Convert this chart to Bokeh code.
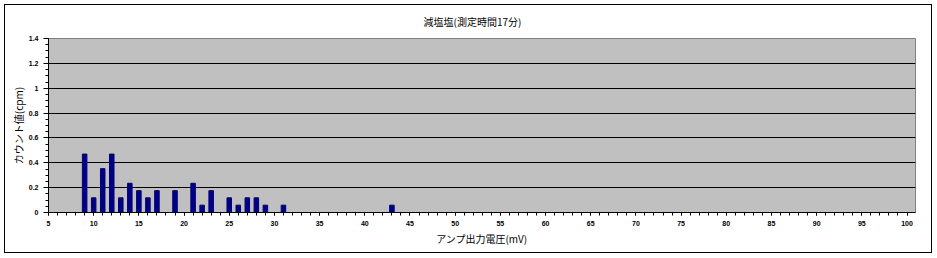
from bokeh.plotting import figure
from bokeh.models import Range1d, FixedTicker, Title
from bokeh.embed import file_html
from bokeh.resources import INLINE

# data: amplifier output voltage (mV) and count rate (cpm)
voltage = [9, 10, 11, 12, 13, 14, 15, 16, 17, 19, 21, 22, 23, 25, 26, 27, 28, 29, 31, 43]
cpm = [0.47, 0.118, 0.353, 0.47, 0.118, 0.235, 0.176, 0.118, 0.176, 0.176,
       0.235, 0.059, 0.176, 0.118, 0.059, 0.118, 0.118, 0.059, 0.059, 0.059]
x_ticks = list(range(5, 101, 5))
x_minor = list(range(5, 101))
y_ticks = [0, 0.2, 0.4, 0.6, 0.8, 1.0, 1.2, 1.4]
y_tick_labels = ["0", "0.2", "0.4", "0.6", "0.8", "1", "1.2", "1.4"]
y_minor = [round(0.05 * k, 2) for k in range(0, 29)]

title_text = "減塩塩(測定時間17分)"
x_title = "アンプ出力電圧(mV)"
y_title = "カウント値(cpm)"

JP = "Noto Sans CJK JP"

p = figure(width=928, height=249, x_range=Range1d(5, 100.94), y_range=Range1d(0, 1.4),
           output_backend="svg", toolbar_location=None,
           min_border_left=43, min_border_right=18, min_border_top=33, min_border_bottom=42,
           background_fill_color="#C0C0C0", border_fill_color="white",
           outline_line_color="#808080", outline_line_width=1,
           margin=(4, 0, 0, 4))
p.styles = {"border": "1px solid black", "box-sizing": "border-box"}

t = Title(text=title_text, align="left", vertical_align="top", standoff=15,
          text_font=JP, text_font_size="10px", text_font_style="normal",
          text_color="black", offset=375)
p.add_layout(t, "above")

p.vbar(x=voltage, top=cpm, width=0.5, fill_color="#000080", line_color="#000080")

p.xgrid.visible = False
p.ygrid.ticker = FixedTicker(ticks=[0.2, 0.4, 0.6, 0.8, 1.0, 1.2])
p.ygrid.grid_line_color = "black"
p.ygrid.grid_line_width = 1

xa = p.xaxis[0]
xa.ticker = FixedTicker(ticks=x_ticks, minor_ticks=x_minor)
xa.axis_line_color = "black"
xa.major_tick_in = 0
xa.major_tick_out = 3
xa.minor_tick_in = 0
xa.minor_tick_out = 3
xa.major_tick_line_color = "black"
xa.minor_tick_line_color = "black"
xa.major_label_text_font = "Liberation Sans"
xa.major_label_text_font_size = "7px"
xa.major_label_text_font_style = "bold"
xa.major_label_text_color = "black"
xa.major_label_standoff = 5
xa.axis_label = x_title
xa.axis_label_text_font = JP
xa.axis_label_text_font_size = "10px"
xa.axis_label_text_font_style = "normal"
xa.axis_label_text_color = "black"
xa.axis_label_standoff = 2

ya = p.yaxis[0]
ya.ticker = FixedTicker(ticks=y_ticks, minor_ticks=y_minor)
ya.major_label_overrides = {v: s for v, s in zip(y_ticks, y_tick_labels)}
ya.axis_line_color = "black"
ya.major_tick_in = 0
ya.major_tick_out = 5
ya.minor_tick_in = 0
ya.minor_tick_out = 3
ya.major_tick_line_color = "black"
ya.minor_tick_line_color = "black"
ya.major_label_text_font = "Liberation Sans"
ya.major_label_text_font_size = "7px"
ya.major_label_text_font_style = "bold"
ya.major_label_text_color = "black"
ya.major_label_standoff = 5
ya.axis_label = y_title
ya.axis_label_text_font = JP
ya.axis_label_text_font_size = "10px"
ya.axis_label_text_font_style = "normal"
ya.axis_label_text_color = "black"
ya.axis_label_standoff = 0

open("out.html", "w").write(file_html(p, INLINE))
